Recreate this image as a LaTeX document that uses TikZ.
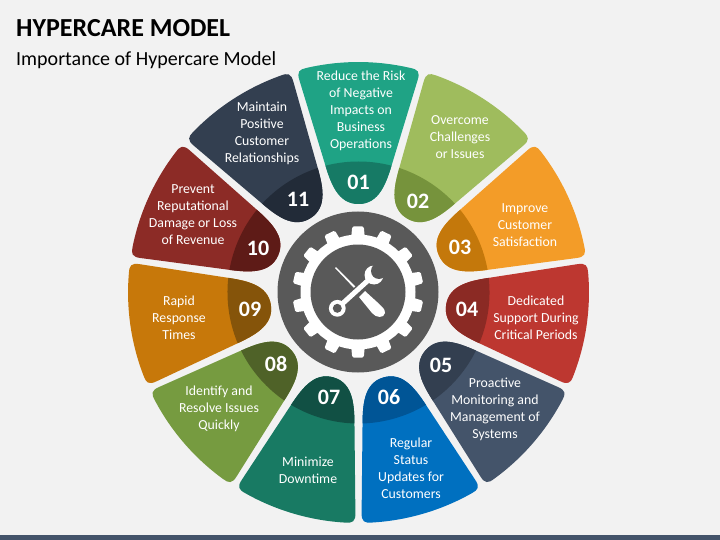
\documentclass[tikz,border=0pt]{standalone}
\usepackage{fontspec}
\setmainfont{Carlito}
\definecolor{pagebg}{HTML}{F2F2F2}
\definecolor{barcol}{HTML}{44546A}
\definecolor{hubcol}{HTML}{595959}
\definecolor{ta}{HTML}{1FA385}\definecolor{tb}{HTML}{167A65}
\definecolor{oa}{HTML}{9FBC5D}\definecolor{ob}{HTML}{76933C}
\definecolor{ra}{HTML}{F39C28}\definecolor{rb}{HTML}{C4780B}
\definecolor{da}{HTML}{BD3730}\definecolor{db}{HTML}{8B2A24}
\definecolor{ea}{HTML}{44546A}\definecolor{eb}{HTML}{333F50}
\definecolor{fa}{HTML}{0070C0}\definecolor{fb}{HTML}{005596}
\definecolor{ga}{HTML}{187A63}\definecolor{gb}{HTML}{115044}
\definecolor{ha}{HTML}{769B40}\definecolor{hb}{HTML}{4F6228}
\definecolor{ia}{HTML}{C7780A}\definecolor{ib}{HTML}{85540A}
\definecolor{ja}{HTML}{8C2B26}\definecolor{jb}{HTML}{5E1B17}
\definecolor{ka}{HTML}{333F50}\definecolor{kb}{HTML}{222B38}
\newcommand{\segpath}{(-34,130) .. controls (-28,110) and (-21,88.5) .. (0,88.5) .. controls (21,88.5) and (28,110) .. (34,130) -- (59,212) .. controls (62,221) and (59,223) .. (52,224.5) arc[start angle=76.93,end angle=103.07,radius=230.5] .. controls (-59,223) and (-62,221) .. (-59,212) -- cycle}
\newcommand{\wheelseg}[3]{\begin{scope}[shift={(358.5,292.5)},x=1pt,y=1pt,rotate=#1]
\fill[#2] \segpath;
\begin{scope}\clip \segpath; \fill[#3] (0,0) circle[radius=131];\end{scope}
\end{scope}}
\tikzset{
 seglabel/.style={text=white,align=center,font=\fontsize{13.8}{17}\selectfont,inner sep=0pt,yshift=-1pt},
 segnum/.style={text=white,font=\fontsize{22}{24}\selectfont\bfseries,inner sep=0pt,yshift=-0.5pt},
}
\begin{document}
\begin{tikzpicture}[x=1pt,y=-1pt]
\useasboundingbox (0,0) rectangle (720,540);
\fill[pagebg] (0,0) rectangle (720,540);
\fill[barcol] (0,535) rectangle (720,540);
\node[anchor=base west,inner sep=0pt,font=\fontsize{26}{30}\selectfont\bfseries] (title) at (16,37) {HYPERCARE MODEL};
\node[anchor=base west,inner sep=0pt,font=\fontsize{20}{24}\selectfont] (subtitle) at (16,66) {Importance of Hypercare Model};
% segments
\wheelseg{0}{ta}{tb}
\wheelseg{-32.727}{oa}{ob}
\wheelseg{-65.455}{ra}{rb}
\wheelseg{-98.182}{da}{db}
\wheelseg{-130.909}{ea}{eb}
\wheelseg{-163.636}{fa}{fb}
\wheelseg{-196.364}{ga}{gb}
\wheelseg{-229.091}{ha}{hb}
\wheelseg{-261.818}{ia}{ib}
\wheelseg{-294.545}{ja}{jb}
\wheelseg{-327.273}{ka}{kb}
% hub and gear
\fill[hubcol] (358,292) circle[radius=80.5];
\foreach \a in {0,25.714,...,340}{
 \fill[white,rounded corners=1.5pt,shift={(358,292)},rotate=\a] (-7,-52) -- (-5.8,-65.5) -- (5.8,-65.5) -- (7,-52) -- cycle;
}
\fill[white] (358,292) circle[radius=57.5];
\fill[hubcol] (358,292) circle[radius=47.5];
% screwdriver
\fill[white] (335,268) -- (336,267.2) -- (356,287) -- (354.5,288.5) -- cycle;
\fill[white] (359,297) -- (372,313) .. controls (376,318) and (384,318.5) .. (385,313) .. controls (386,309) and (380,305) .. (365,291) -- cycle;
% wrench
\draw[hubcol,line width=8pt] (337.3,308.3) -- (374,275);
\draw[white,line width=5pt] (337.3,308.3) -- (374,275);
\fill[white] (374,275) circle[radius=9.5];
\fill[hubcol] (379,271) circle[radius=8];
\fill[white] (337.3,308.3) circle[radius=8.4];
\fill[hubcol] (337.3,308.3) circle[radius=4.5];
% labels
\node[seglabel] (t01) at (361,110) {Reduce the Risk\\of Negative\\Impacts on\\Business\\Operations};
\node[seglabel] (t02) at (460,136) {Overcome\\Challenges\\or Issues};
\node[seglabel] (t03) at (525,224) {Improve\\Customer\\Satisfaction};
\node[seglabel] (t04) at (536,317) {Dedicated\\Support During\\Critical Periods};
\node[seglabel] (t05) at (495,408) {Proactive\\Monitoring and\\Management of\\Systems};
\node[seglabel] (t06) at (411,467) {Regular\\Status\\Updates for\\Customers};
\node[seglabel] (t07) at (308,469) {Minimize\\Downtime};
\node[seglabel] (t08) at (219,408) {Identify and\\Resolve Issues\\Quickly};
\node[seglabel] (t09) at (179,316.5) {Rapid\\Response\\Times};
\node[seglabel] (t10) at (193,213.5) {Prevent\\Reputational\\Damage or Loss\\of Revenue};
\node[seglabel] (t11) at (262,132) {Maintain\\Positive\\Customer\\Relationships};
\node[segnum] (n01) at (358.5,182) {01};
\node[segnum] (n02) at (418,201) {02};
\node[segnum] (n03) at (460,247) {03};
\node[segnum] (n04) at (467,309) {04};
\node[segnum] (n05) at (441,365) {05};
\node[segnum] (n06) at (389,397) {06};
\node[segnum] (n07) at (329,397) {07};
\node[segnum] (n08) at (276,363) {08};
\node[segnum] (n09) at (250,309) {09};
\node[segnum] (n10) at (258,248) {10};
\node[segnum] (n11) at (298,199) {11};
\end{tikzpicture}
\end{document}
